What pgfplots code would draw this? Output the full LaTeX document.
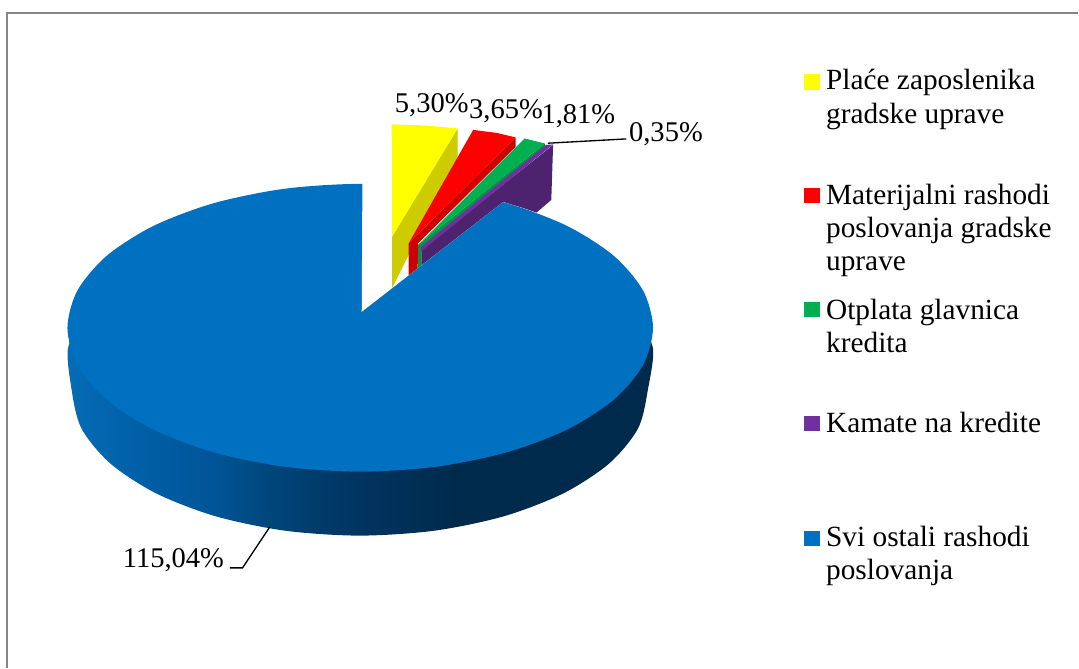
\documentclass[border=0pt]{standalone}
\usepackage{pgfplots}
\pgfplotsset{compat=1.18}
\usepackage{fontspec}
\setmainfont{Liberation Serif}

\definecolor{pieyellow}{RGB}{255,255,0}
\definecolor{pieyellowd}{RGB}{204,204,0}
\definecolor{piered}{RGB}{255,0,0}
\definecolor{pieredd}{RGB}{204,0,0}
\definecolor{piegreen}{RGB}{0,176,80}
\definecolor{piegreend}{RGB}{0,150,68}
\definecolor{piepurple}{RGB}{112,48,160}
\definecolor{piepurpled}{RGB}{77,35,112}
\definecolor{pieblue}{RGB}{0,112,192}
\definecolor{framegray}{RGB}{134,134,134}

% side of the big slice, light on the left and dark from the middle on
\pgfdeclarehorizontalshading{bandshade}{100bp}{
  rgb(0bp)=(0.02,0.43,0.72);
  rgb(25bp)=(0.02,0.43,0.72);
  rgb(32bp)=(0,0.37,0.65);
  rgb(38bp)=(0,0.33,0.59);
  rgb(42bp)=(0,0.28,0.49);
  rgb(48bp)=(0,0.22,0.40);
  rgb(53bp)=(0,0.19,0.35);
  rgb(58bp)=(0,0.165,0.295);
  rgb(75bp)=(0,0.165,0.295);
  rgb(100bp)=(0,0.165,0.295)}

\newcommand{\pielabel}[3]{\node[anchor=base west,inner sep=0pt,font=\fontsize{21.4}{26}\selectfont] at (axis cs:#1,#2) {#3};}
\newcommand{\keytext}[3]{\node[anchor=base west,inner sep=0pt,font=\fontsize{22}{26}\selectfont] at (axis cs:#1,#2) {#3};}
\newcommand{\piekey}[2]{\addplot[only marks,color=#1,mark=square*,mark size=5.4pt] coordinates {#2};}

\begin{document}
\begin{tikzpicture}
\begin{axis}[
  hide axis, scale only axis, clip=false,
  x=0.75pt, y=0.75pt, y dir=reverse,
  xmin=0, xmax=1079, ymin=0, ymax=668,
]
% keeps the page at the full size
\path (axis cs:0,0) rectangle (axis cs:1079,668);

% frame
\addplot[framegray,line width=1.2pt] coordinates {(7,668) (7,13) (1079,13)};

% side of the big slice
\addplot[shading=bandshade,draw=none,smooth cycle] coordinates {
(648,392) (638.2,429.3) (609.4,464) (563.6,493.8) (504,516.7) (434.5,531.1) (360,536)
(285.5,531.1) (216,516.7) (156.4,493.8) (110.6,464) (81.8,429.3) (72,392) (69,345)
(100,338) (360,342) (620,338) (652.5,345)};

% top of the big slice, the gap is cut out below
\addplot[fill=pieblue,draw=none,smooth cycle] coordinates {
(653.5,328) (643.5,365.3) (614.2,400) (567.7,429.8) (507,452.7) (436.3,467.1) (360.5,472)
(284.7,467.1) (214,452.7) (153.3,429.8) (106.8,400) (77.5,365.3) (67.5,328) (77.5,290.7)
(106.8,256) (153.3,226.2) (214,203.3) (284.7,188.9) (360.5,184) (436.3,188.9) (507,203.3)
(567.7,226.2) (614.2,256) (643.5,290.7)};
\addplot[fill=white,draw=none] coordinates {(362,312) (362.7,175) (503.5,175) (503.5,202)} -- cycle;

% yellow slice
\addplot[fill=pieyellowd,draw=none] coordinates {(458,128.5) (458,158) (392.3,288.4) (392.3,237)} -- cycle;
\addplot[fill=pieyellow,draw=none] coordinates {(392,124.5) (425,125.5) (458,128.5) (392.3,237)} -- cycle;
% red slice
\addplot[fill=pieredd,draw=none] coordinates {(516,137.5) (516,147) (418.3,243.5) (418,268.4) (409,275.4) (409,243.5)} -- cycle;
\addplot[fill=piered,draw=none] coordinates {(473.5,130) (497,133) (516,137.5) (409,243.5)} -- cycle;
% green slice
\addplot[fill=piegreend,draw=none] coordinates {(545,143.5) (546,146) (421.7,248.3) (421.7,265.5) (418,268.4) (418.5,245)} -- cycle;
\addplot[fill=piegreen,draw=none] coordinates {(525,138.5) (545,143.5) (418.5,245)} -- cycle;
% purple slice
\addplot[fill=piepurpled,draw=none] coordinates {(553.5,145) (551.7,200) (537,212.7) (520,207) (503.5,202) (421.7,265.5) (421.7,250)} -- cycle;
\addplot[fill=piepurple,draw=none] coordinates {(553.5,144.5) (546.5,145) (421.5,247) (421.5,251.5)} -- cycle;

% leader lines
\addplot[black,line width=1pt] coordinates {(548.3,143.3) (626.7,139)};
\addplot[black,line width=1pt] coordinates {(270,527.3) (242.7,568.3) (230,568.3)};

% data labels
\pielabel{395}{112.7}{5,30\%}
\pielabel{469.3}{118.3}{3,65\%}
\pielabel{541.7}{124}{1,81\%}
\pielabel{629.3}{141.7}{0,35\%}
\pielabel{122.7}{568.3}{115,04\%}

% legend keys
\piekey{pieyellow}{(812.5,81.7)}
\piekey{piered}{(812.5,195.2)}
\piekey{piegreen}{(812.5,309.5)}
\piekey{piepurple}{(812.5,423.5)}
\piekey{pieblue}{(812.5,538.5)}

% legend text
\keytext{826.5}{90}{Plaće zaposlenika}
\keytext{826.5}{123.3}{gradske uprave}
\keytext{826.5}{204.3}{Materijalni rashodi}
\keytext{826.5}{237.5}{poslovanja gradske}
\keytext{826.5}{271}{uprave}
\keytext{826.5}{319.3}{Otplata glavnica}
\keytext{826.5}{352.7}{kredita}
\keytext{826.5}{432.7}{Kamate na kredite}
\keytext{826.5}{547.3}{Svi ostali rashodi}
\keytext{826.5}{580}{poslovanja}

\end{axis}
\end{tikzpicture}
\end{document}
